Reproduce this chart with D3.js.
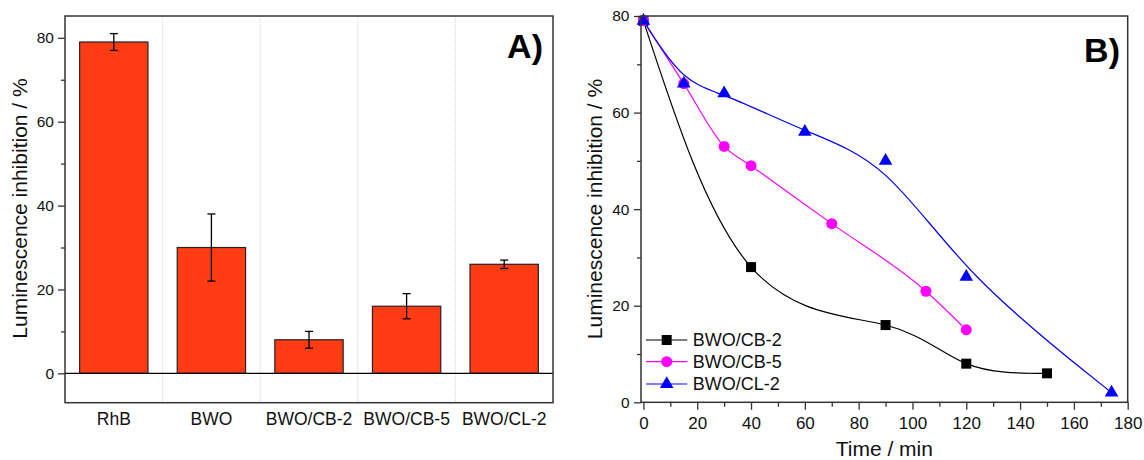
<!DOCTYPE html>
<html>
<head>
<meta charset="utf-8">
<script src="https://cdn.jsdelivr.net/npm/d3@7"></script>
<style>
  body { margin: 0; background: #fff; }
  svg { display: block; font-family: "Liberation Sans", Arial, sans-serif; }
</style>
</head>
<body>
<svg id="chart" width="1144" height="460"></svg>
<script>
// panel A: bars with error bars
var samples = ["RhB", "BWO", "BWO/CB-2", "BWO/CB-5", "BWO/CL-2"];
var inhibition = [79, 30, 8, 16, 26];
var inhibitionErr = [2, 8, 2, 3, 1];
var yTicksA = [0, 20, 40, 60, 80];
var yMinorA = [10, 30, 50, 70];

// panel B: inhibition vs time
var timeCB2 = [0, 40, 90, 120, 150];
var inhCB2 = [79, 28, 16, 8, 6];
var timeCB5 = [0, 15, 30, 40, 70, 105, 120];
var inhCB5 = [79, 66, 53, 49, 37, 23, 15];
var timeCL2 = [0, 15, 30, 60, 90, 120, 174];
var inhCL2 = [79, 66, 64, 56, 50, 26, 2];
var seriesNames = ["BWO/CB-2", "BWO/CB-5", "BWO/CL-2"];
var xTicksB = [0, 20, 40, 60, 80, 100, 120, 140, 160, 180];
var xMinorB = [10, 30, 50, 70, 90, 110, 130, 150, 170];
var yTicksB = [0, 20, 40, 60, 80];
var yMinorB = [10, 30, 50, 70];

var svg = d3.select("#chart");
var frameColor = "#333";

//---------------- panel A
var boxA = {l: 65, t: 16, r: 553, b: 402.7};
var xA = d3.scaleBand().domain(samples).range([boxA.l, boxA.r])
           .paddingInner(0.3).paddingOuter(0.15);
var yA = d3.scaleLinear().domain([-7, 85.2]).range([boxA.b, boxA.t]);
var gA = svg.append("g");

// dotted separators between categories
var step = xA.step();
for (var i = 1; i < samples.length; i++) {
  var gx = boxA.l + i * step;
  gA.append("line").attr("x1", gx).attr("x2", gx).attr("y1", boxA.t).attr("y2", boxA.b)
    .attr("stroke", "#d4d4d4").attr("stroke-dasharray", "1,1");
}

gA.selectAll("rect.bar").data(samples).enter().append("rect")
  .attr("class", "bar")
  .attr("x", function(d) { return xA(d); })
  .attr("width", xA.bandwidth())
  .attr("y", function(d, i) { return yA(inhibition[i]); })
  .attr("height", function(d, i) { return yA(0) - yA(inhibition[i]); })
  .attr("fill", "#ff3c14").attr("stroke", "#222").attr("stroke-width", 1.2);

// zero line
gA.append("line").attr("x1", boxA.l).attr("x2", boxA.r)
  .attr("y1", yA(0)).attr("y2", yA(0)).attr("stroke", "#000").attr("stroke-width", 1.2);

// error bars
samples.forEach(function(s, i) {
  var cx = xA(s) + xA.bandwidth() / 2;
  var hi = yA(inhibition[i] + inhibitionErr[i]), lo = yA(inhibition[i] - inhibitionErr[i]);
  var eb = gA.append("g").attr("stroke", "#000").attr("stroke-width", 1.3);
  eb.append("line").attr("x1", cx).attr("x2", cx).attr("y1", hi).attr("y2", lo);
  eb.append("line").attr("x1", cx - 4).attr("x2", cx + 4).attr("y1", hi).attr("y2", hi);
  eb.append("line").attr("x1", cx - 4).attr("x2", cx + 4).attr("y1", lo).attr("y2", lo);
});

gA.append("rect").attr("x", boxA.l).attr("y", boxA.t)
  .attr("width", boxA.r - boxA.l).attr("height", boxA.b - boxA.t)
  .attr("fill", "none").attr("stroke", frameColor).attr("stroke-width", 1.5);

var axA = gA.append("g").attr("transform", "translate(" + boxA.l + ",0)")
  .call(d3.axisLeft(yA).tickValues(yTicksA).tickSize(7).tickPadding(4));
var axAm = gA.append("g").attr("transform", "translate(" + boxA.l + ",0)")
  .call(d3.axisLeft(yA).tickValues(yMinorA).tickSize(4).tickFormat(""));
var axAx = gA.append("g").attr("transform", "translate(0," + boxA.b + ")")
  .call(d3.axisBottom(xA).tickSize(0).tickPadding(9.5));
[axA, axAm, axAx].forEach(function(a) {
  a.select(".domain").remove();
  a.selectAll("line").attr("stroke", frameColor).attr("stroke-width", 1.3);
  a.selectAll("text").attr("fill", "#111").style("font-family", "inherit");
});
axA.selectAll("text").attr("font-size", 15.5);
axAx.selectAll("text").attr("font-size", 17.5);

gA.append("text").attr("transform", "translate(26.5,208.5) rotate(-90)")
  .attr("text-anchor", "middle").attr("font-size", 21).attr("fill", "#111")
  .text("Luminescence inhibition / %");
gA.append("text").attr("x", 543).attr("y", 57.5).attr("text-anchor", "end")
  .attr("font-size", 34).attr("font-weight", "bold").text("A)");

//---------------- panel B
var boxB = {l: 641, t: 16, r: 1127.7, b: 402.3};
var xB = d3.scaleLinear().domain([-0.9, 180]).range([boxB.l, boxB.r]);
var yB = d3.scaleLinear().domain([0, 80]).range([boxB.b, boxB.t]);
var gB = svg.append("g");

var series = [
  {x: timeCB2, y: inhCB2, color: "#000000", curve: d3.curveNatural, shape: d3.symbolSquare, size: 100},
  {x: timeCB5, y: inhCB5, color: "#ff00ff", curve: d3.curveMonotoneX, shape: d3.symbolCircle, size: 95},
  {x: timeCL2, y: inhCL2, color: "#0000ff", curve: d3.curveBasis, shape: d3.symbolTriangle, size: 80}
];

series.forEach(function(s) {
  var pts = s.x.map(function(t, i) { return [t, s.y[i]]; });
  var line = d3.line().x(function(d) { return xB(d[0]); }).y(function(d) { return yB(d[1]); }).curve(s.curve);
  gB.append("path").datum(pts).attr("d", line)
    .attr("fill", "none").attr("stroke", s.color).attr("stroke-width", 1.2);
});
series.forEach(function(s) {
  var pts = s.x.map(function(t, i) { return [t, s.y[i]]; });
  gB.selectAll(null).data(pts).enter().append("path")
    .attr("d", d3.symbol(s.shape, s.size))
    .attr("transform", function(d) { return "translate(" + xB(d[0]) + "," + yB(d[1]) + ")"; })
    .attr("fill", s.color);
});

gB.append("rect").attr("x", boxB.l).attr("y", boxB.t)
  .attr("width", boxB.r - boxB.l).attr("height", boxB.b - boxB.t)
  .attr("fill", "none").attr("stroke", frameColor).attr("stroke-width", 1.5);

var axBy = gB.append("g").attr("transform", "translate(" + boxB.l + ",0)")
  .call(d3.axisLeft(yB).tickValues(yTicksB).tickSize(7).tickPadding(4.5));
var axBym = gB.append("g").attr("transform", "translate(" + boxB.l + ",0)")
  .call(d3.axisLeft(yB).tickValues(yMinorB).tickSize(4).tickFormat(""));
var axBx = gB.append("g").attr("transform", "translate(0," + boxB.b + ")")
  .call(d3.axisBottom(xB).tickValues(xTicksB).tickSize(7.5).tickPadding(7));
var axBxm = gB.append("g").attr("transform", "translate(0," + boxB.b + ")")
  .call(d3.axisBottom(xB).tickValues(xMinorB).tickSize(4.5).tickFormat(""));
[axBy, axBym, axBx, axBxm].forEach(function(a) {
  a.select(".domain").remove();
  a.selectAll("line").attr("stroke", frameColor).attr("stroke-width", 1.3);
  a.selectAll("text").attr("fill", "#111").style("font-family", "inherit");
});
axBy.selectAll("text").attr("font-size", 15.5);
axBx.selectAll("text").attr("font-size", 17);

gB.append("text").attr("transform", "translate(601.5,209) rotate(-90)")
  .attr("text-anchor", "middle").attr("font-size", 21).attr("fill", "#111")
  .text("Luminescence inhibition / %");
gB.append("text").attr("x", (boxB.l + boxB.r) / 2).attr("y", 455.5)
  .attr("text-anchor", "middle").attr("font-size", 21).attr("fill", "#111")
  .text("Time / min");
gB.append("text").attr("x", 1120).attr("y", 61.5).attr("text-anchor", "end")
  .attr("font-size", 34).attr("font-weight", "bold").text("B)");

// legend
var legY = [340, 361.7, 384];
series.forEach(function(s, i) {
  var lg = gB.append("g").attr("transform", "translate(0," + legY[i] + ")");
  lg.append("line").attr("x1", 646).attr("x2", 687.3).attr("y1", 0).attr("y2", 0)
    .attr("stroke", s.color).attr("stroke-width", 1.2);
  lg.append("path").attr("d", d3.symbol(s.shape, s.size))
    .attr("transform", "translate(666.7,0)").attr("fill", s.color);
  lg.append("text").attr("x", 692.7).attr("dy", "0.36em").attr("font-size", 18)
    .attr("fill", "#111").text(seriesNames[i]);
});
</script>
</body>
</html>
